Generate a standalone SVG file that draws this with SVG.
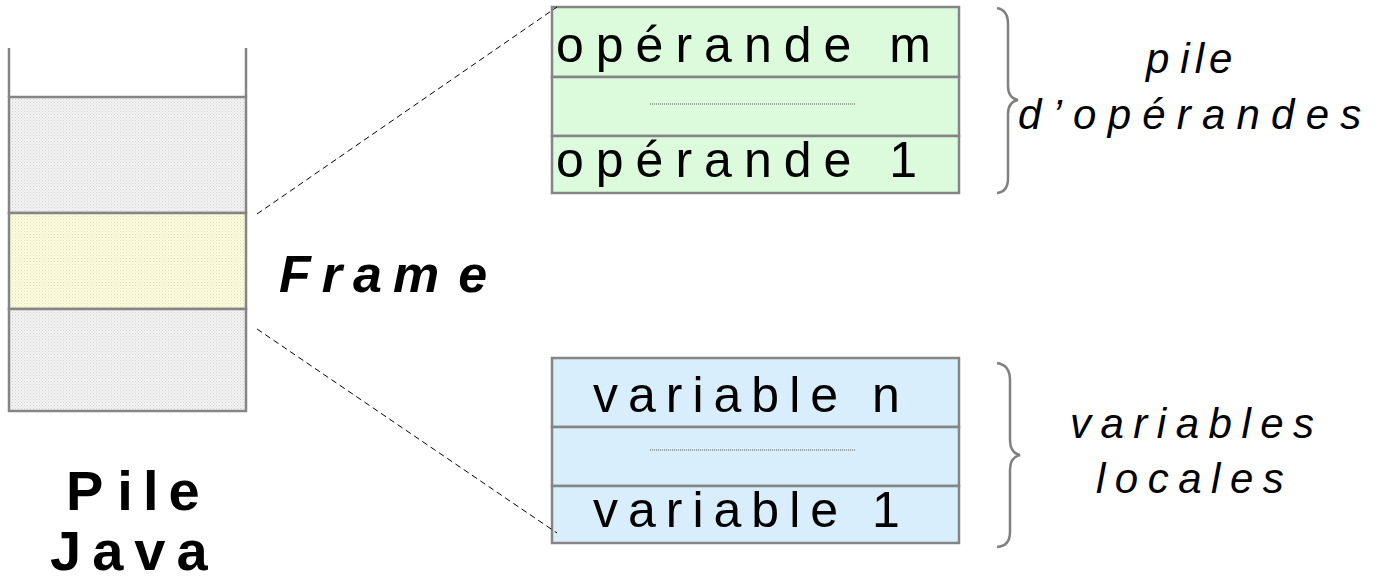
<svg xmlns="http://www.w3.org/2000/svg" width="1376" height="582" viewBox="0 0 1376 582">
<defs>
<pattern id="pg" width="3" height="3" patternUnits="userSpaceOnUse"><rect width="3" height="3" fill="#f3f3f3"/><rect width="1" height="1" fill="#d2d2d2"/><rect x="1.5" y="1.5" width="1" height="1" fill="#dddddd"/></pattern>
<pattern id="py" width="3" height="3" patternUnits="userSpaceOnUse"><rect width="3" height="3" fill="#fcfcdf"/><rect width="1" height="1" fill="#e4e4bc"/><rect x="1.5" y="1.5" width="1" height="1" fill="#ececc8"/></pattern>
</defs>
<style>
.cell{stroke:#858585;stroke-width:2.5}
.g{fill:url(#pg)}
.y{fill:url(#py)}
.gr{fill:#dcfadc}
.bl{fill:#d8eefc}
.t{font-family:"Liberation Sans",Arial,sans-serif;fill:#000}
.box{font-size:50px;letter-spacing:12px}
.bv{font-size:50px;letter-spacing:10px}
.it{font-size:42px;font-style:italic;letter-spacing:9.5px}
.bd{font-size:56px;font-weight:bold;letter-spacing:10px}
.dash{stroke:#000;stroke-width:1;stroke-dasharray:6,4;fill:none}
.dot{stroke:#555;stroke-width:1;stroke-dasharray:1,1}
.brace{stroke:#808080;stroke-width:2.5;fill:none}
</style>
<g id="pile-java">
<line x1="9" y1="48" x2="9" y2="97" class="cell"/>
<line x1="246" y1="48" x2="246" y2="97" class="cell"/>
<rect x="9" y="97" width="237" height="116" class="cell g"/>
<rect x="9" y="213" width="237" height="96" class="cell y"/>
<rect x="9" y="309" width="237" height="102" class="cell g"/>
<text class="t bd" x="66" y="510">P<tspan dx="4">ile</tspan></text>
<text class="t bd" x="50" y="570" style="letter-spacing:11px">Java</text>
</g>
<g id="frame-label">
<text class="t" x="279" y="292" style="font-weight:bold;font-style:italic;font-size:52px;letter-spacing:11px">Fram<tspan dx="8">e</tspan></text>
</g>
<g id="operandes">
<rect x="552" y="7" width="407" height="70" class="cell gr"/>
<rect x="552" y="77" width="407" height="59" class="cell gr"/>
<rect x="552" y="136" width="407" height="57" class="cell gr"/>
<line x1="650" y1="104" x2="855" y2="104" class="dot"/>
<text class="t box" x="556" y="62">opérande m</text>
<text class="t box" x="556" y="177">opérande 1</text>
</g>
<g id="variables">
<rect x="552" y="358" width="407" height="69" class="cell bl"/>
<rect x="552" y="427" width="407" height="59" class="cell bl"/>
<rect x="552" y="486" width="407" height="57" class="cell bl"/>
<line x1="650" y1="450" x2="855" y2="450" class="dot"/>
<text class="t bv" x="593" y="412">variable n</text>
<text class="t bv" x="593" y="527">variable 1</text>
</g>
<g id="label-operandes">
<path class="brace" d="M997,8 Q1008,10 1008,24 L1008,86 Q1008,98 1018,100 Q1008,102 1008,114 L1008,178 Q1008,192 997,193"/>
<text class="t it" x="1146" y="73" style="letter-spacing:5px">p<tspan dx="6">ile</tspan></text>
<text class="t it" x="1018" y="129" style="letter-spacing:11.2px">d’opérandes</text>
</g>
<g id="label-variables">
<path class="brace" d="M997,363 Q1010,365 1010,380 L1010,440 Q1010,453 1020,455 Q1010,457 1010,470 L1010,532 Q1010,546 997,547"/>
<text class="t it" x="1070" y="438">variables</text>
<text class="t it" x="1096" y="493">locales</text>
</g>
<g id="connectors">
<line x1="257" y1="214" x2="557" y2="7" class="dash"/>
<line x1="257" y1="329" x2="557" y2="533" class="dash"/>
</g>
</svg>
